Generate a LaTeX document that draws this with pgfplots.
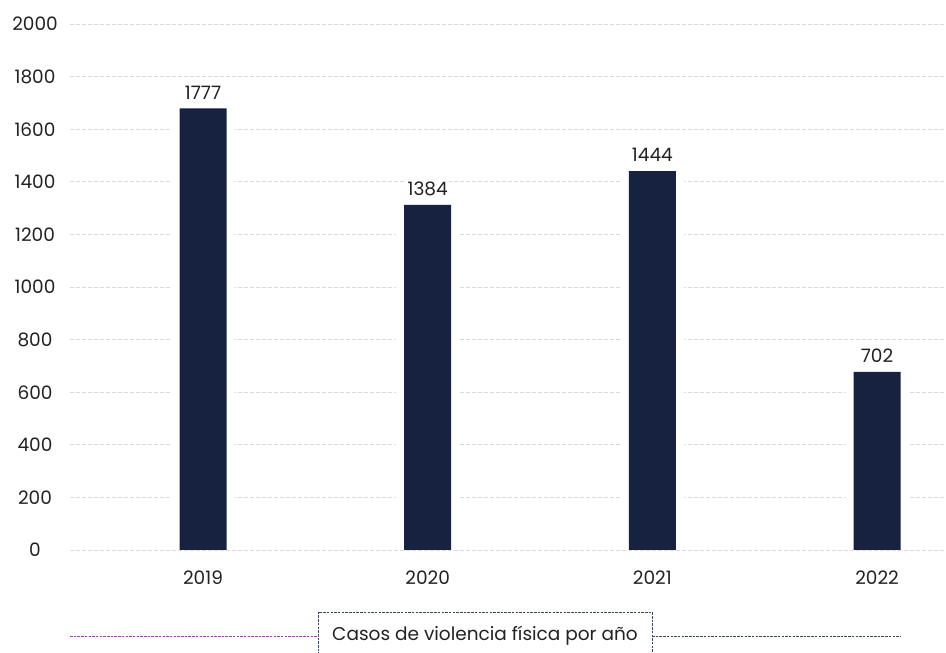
\documentclass[border=0pt]{standalone}
\usepackage{pgfplots}
\pgfplotsset{compat=1.18}
\usepackage{pgfplotstable}
\usepackage{fontspec}
\setmainfont{Poppins}
\definecolor{navy}{HTML}{16223F}
\definecolor{gridgray}{HTML}{D9D9D9}
\definecolor{txt}{HTML}{222222}
\definecolor{purp}{HTML}{9B3FB0}
\definecolor{boxc}{HTML}{3A4560}
\pgfplotstableread{
x y label
0 1679 1777
1 1312 1384
2 1441 1444
3 677 702
}\data
\begin{document}
\begin{tikzpicture}[x=1pt,y=1pt]
\path[use as bounding box] (0,0) rectangle (946,653);
\begin{axis}[
  at={(70pt,103pt)}, anchor=south west,
  scale only axis, width=876pt, height=526pt,
  xmin=-0.592, xmax=3.307, ymin=0, ymax=2000,
  axis line style={draw=none},
  major tick length=0pt,
  ytick={0,200,...,2000},
  xtick={0,1,2,3}, xticklabels={2019,2020,2021,2022},
  ymajorgrids,
  grid style={gridgray, line width=0.9pt, dash pattern=on 4pt off 2pt},
  tick label style={font=\fontsize{18.5}{18.5}\selectfont, text=txt},
  /pgf/number format/assume math mode=true,
  /pgf/number format/1000 sep={},
  yticklabel style={anchor=center, xshift=-35pt},
  xticklabel style={anchor=center, yshift=-28pt},
  clip=false,
]
\addplot[ybar, bar width=63pt, bar shift=0pt, fill=white, draw=none] table[x=x,y=y] {\data};
\addplot[ybar, bar width=47pt, bar shift=0pt, fill=navy, draw=none,
  point meta=explicit symbolic,
  nodes near coords,
  nodes near coords style={anchor=center, yshift=16pt, font=\fontsize{18.5}{18.5}\selectfont, text=txt, fill=white, inner sep=1.5pt}
] table[x=x,y=y,meta=label] {\data};
\end{axis}
\draw[purp, line width=0.9pt, dash pattern=on 2.5pt off 1.2pt] (70,17) -- (318,17);
\draw[boxc, line width=0.9pt, dash pattern=on 2.5pt off 1.2pt] (652,17) -- (900,17);
\draw[boxc, line width=0.9pt, dash pattern=on 2.5pt off 1.2pt] (318,-2) -- (318,41) -- (652,41) -- (652,-2);
\node[text=txt, font=\fontsize{18.5}{18.5}\selectfont] at (485,17) {Casos de violencia física por año};
\end{tikzpicture}
\end{document}
